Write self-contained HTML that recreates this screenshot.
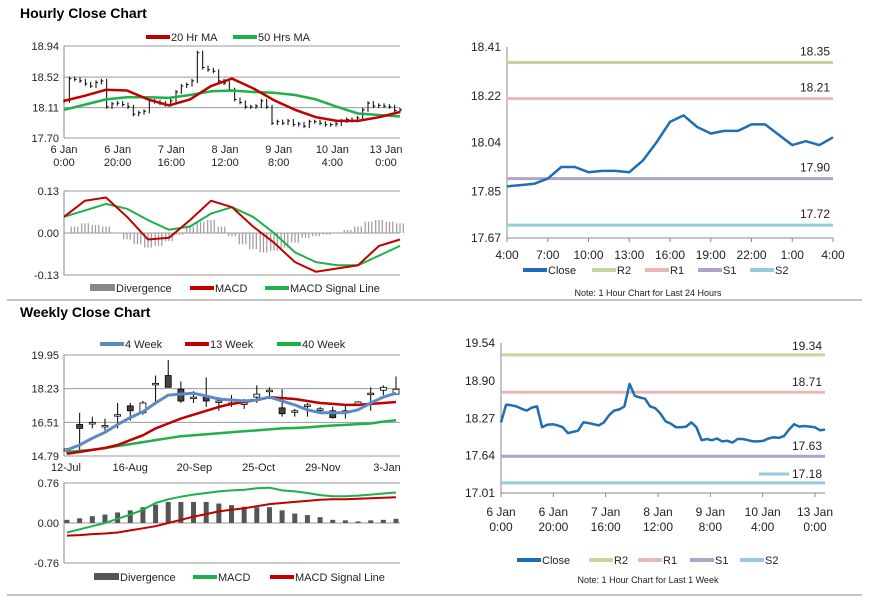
<!DOCTYPE html>
<html><head><meta charset="utf-8"><style>
html,body{margin:0;padding:0;background:#fff;}
svg{display:block;font-family:"Liberation Sans",Arial,sans-serif;}
</style></head><body>
<svg id="s" width="873" height="601" viewBox="0 0 873 601">
<text x="20" y="18" font-size="14" font-weight="bold">Hourly Close Chart</text>
<text x="20" y="317" font-size="14" font-weight="bold">Weekly Close Chart</text>
<line x1="7" y1="300" x2="862" y2="300" stroke="#888" stroke-width="1"/>
<line x1="7" y1="595" x2="862" y2="595" stroke="#888" stroke-width="1"/>
<g id="g"></g>
</svg>
<script>
// ---- Hourly data ----
const hourlyClose=[18.20,18.50,18.49,18.47,18.43,18.40,18.45,18.47,18.12,18.16,18.17,18.15,18.12,18.02,18.04,18.06,18.20,18.19,18.17,18.15,18.20,18.32,18.40,18.42,18.47,18.85,18.65,18.62,18.60,18.47,18.44,18.35,18.22,18.18,18.12,18.12,18.13,18.20,18.12,17.90,17.92,17.90,17.93,17.88,17.89,17.86,17.92,17.92,17.90,17.88,17.88,17.89,17.93,17.95,17.94,17.97,18.08,18.17,18.13,18.14,18.13,18.12,18.07,18.08];
const ma20=[18.20,18.27,18.35,18.34,18.22,18.14,18.22,18.40,18.50,18.37,18.21,18.08,17.98,17.93,17.93,17.98,18.05];
const ma50=[18.08,18.15,18.22,18.25,18.25,18.24,18.28,18.33,18.34,18.32,18.31,18.28,18.22,18.12,18.03,18.01,17.99];
const hMacd=[0.05,0.10,0.11,0.05,-0.02,-0.015,0.04,0.10,0.08,0.02,-0.03,-0.09,-0.12,-0.11,-0.10,-0.04,-0.02];
const hSignal=[0.05,0.07,0.09,0.075,0.04,0.01,0.02,0.06,0.08,0.05,0.0,-0.06,-0.09,-0.10,-0.10,-0.07,-0.04];
const hDiv=[0.0,0.02,0.03,0.025,0.02,0.0,-0.02,-0.035,-0.045,-0.04,-0.025,-0.005,0.02,0.035,0.04,0.02,-0.01,-0.035,-0.05,-0.06,-0.055,-0.045,-0.03,-0.015,-0.01,-0.005,0.0,0.01,0.02,0.035,0.04,0.035,0.03];
const hYTicks=[18.94,18.52,18.11,17.70];
const hMacdTicks=[0.13,0.00,-0.13];
const hXLabels=[["6 Jan","0:00"],["6 Jan","20:00"],["7 Jan","16:00"],["8 Jan","12:00"],["9 Jan","8:00"],["10 Jan","4:00"],["13 Jan","0:00"]];
// ---- 24h data ----
const dayClose=[17.87,17.875,17.88,17.90,17.945,17.945,17.925,17.93,17.93,17.925,17.97,18.04,18.12,18.145,18.10,18.075,18.085,18.085,18.11,18.11,18.07,18.03,18.045,18.03,18.06];
const dayLevels=[18.35,18.21,17.90,17.72];
const dayYTicks=[18.41,18.22,18.04,17.85,17.67];
const dayXLabels=["4:00","7:00","10:00","13:00","16:00","19:00","22:00","1:00","4:00"];
// ---- week (hourly) levels ----
const wkLevels=[19.34,18.71,17.63,17.18];
const wkYTicks=[19.54,18.90,18.27,17.64,17.01];
// ---- Weekly data ----
const wOpen=[15.05,16.4,16.5,16.35,16.9,17.35,17.0,18.5,18.9,18.2,17.8,17.8,17.6,17.5,17.5,17.8,18.15,17.25,17.1,17.4,17.2,17.1,17.1,17.4,18.0,18.15,17.95];
const wClose=[15.15,16.2,16.5,16.35,16.9,17.1,17.5,18.5,18.3,17.6,17.8,17.6,17.6,17.5,17.5,17.95,18.15,16.95,17.1,17.4,17.2,16.75,17.1,17.55,18.0,18.3,18.2];
const wHigh=[15.2,17.0,16.8,16.7,17.5,17.5,17.6,18.9,19.7,18.6,18.1,18.8,17.8,17.9,17.7,18.4,18.3,18.2,17.2,17.5,17.3,17.3,17.4,17.6,18.3,18.4,18.85];
const wLow=[14.9,15.0,16.2,16.1,16.2,16.6,16.9,17.5,18.3,17.5,17.5,17.3,17.1,17.3,17.2,17.5,17.7,16.8,16.8,16.8,17.0,16.7,16.7,17.4,17.1,17.9,17.9];
const w4=[15.1,15.35,15.7,16.0,16.4,16.75,17.05,17.5,17.9,17.95,18.0,17.85,17.7,17.65,17.6,17.65,17.8,17.6,17.4,17.15,17.0,17.0,17.0,17.15,17.5,17.8,18.0];
const w13=[14.9,15.0,15.1,15.2,15.35,15.6,15.85,16.2,16.45,16.7,16.9,17.1,17.3,17.45,17.55,17.65,17.8,17.75,17.7,17.6,17.5,17.45,17.4,17.4,17.45,17.5,17.55];
const w40=[15.0,15.05,15.1,15.2,15.3,15.4,15.5,15.6,15.7,15.8,15.85,15.9,15.95,16.0,16.05,16.1,16.15,16.2,16.22,16.25,16.3,16.35,16.38,16.42,16.45,16.55,16.62];
const wDiv=[0.06,0.09,0.13,0.16,0.2,0.24,0.3,0.35,0.4,0.4,0.4,0.4,0.37,0.34,0.31,0.3,0.3,0.24,0.18,0.15,0.11,0.06,0.05,0.03,0.05,0.06,0.08];
const wMacd=[-0.18,-0.12,-0.06,0.0,0.08,0.16,0.25,0.38,0.45,0.5,0.54,0.57,0.6,0.62,0.63,0.66,0.67,0.62,0.6,0.57,0.53,0.51,0.51,0.52,0.54,0.56,0.58];
const wSignal=[-0.24,-0.23,-0.21,-0.2,-0.18,-0.14,-0.1,-0.06,0.0,0.06,0.12,0.17,0.22,0.25,0.28,0.32,0.36,0.38,0.4,0.42,0.44,0.45,0.45,0.46,0.47,0.48,0.49];
const wYTicks=[19.95,18.23,16.51,14.79];
const wMacdTicks=[0.76,0.00,-0.76];
const wXLabels=["12-Jul","16-Aug","20-Sep","25-Oct","29-Nov","3-Jan"];

const NS="http://www.w3.org/2000/svg",G=document.getElementById('g');
function el(t,a,p){const e=document.createElementNS(NS,t);for(const k in a)e.setAttribute(k,a[k]);(p||G).appendChild(e);return e;}
function lin(d0,d1,r0,r1){return v=>r0+(v-d0)/(d1-d0)*(r1-r0);}
function txt(x,y,s,anchor,size,name){const t=el('text',{x:x,y:y,'font-size':size||11,'text-anchor':anchor||'start',fill:'#222'});t.textContent=s;

return t;}
function line(vals,xf,yf,color,w,name){const d=vals.map((v,i)=>(i?'L':'M')+xf(i).toFixed(1)+' '+yf(v).toFixed(1)).join('');
const p=el('path',{d:d,fill:'none',stroke:color,'stroke-width':w,'stroke-linejoin':'round'});

return p;}
function grid(x0,x1,ticks,yf,name,withLine){ticks.forEach(t=>{if(withLine){const l=el('line',{x1:x0,x2:x1,y1:yf(t),y2:yf(t),stroke:'#999','stroke-width':1});

}
txt(x0-5,yf(t)+4,t.toFixed(2),'end',11,name+'-tick');});}
function axisY(x,y0,y1){const l=el('line',{x1:x,x2:x,y1:y0,y2:y1,stroke:'#888'});

}
function legend(items,y){items.forEach(it=>{const r=el('rect',{x:it[0],y:y-(it[3]?4:2),width:it[4]||24,height:it[3]?7:4,fill:it[2]});


txt(it[0]+(it[4]||24)+1,y+4,it[1],'start',11,'legend-entry');});}

// ===== Hourly price =====
(function(){const x0=64,x1=400,y=lin(17.70,18.94,138,46);
const xi=lin(0,hourlyClose.length-1,x0,x1);
grid(x0,x1,hYTicks,y,'hourly-y',true);axisY(x0,46,138);
hourlyClose.forEach((v,i)=>{const p=i?hourlyClose[i-1]:v;const hi=Math.max(p,v),lo=Math.min(p,v);
const b=el('line',{x1:xi(i),x2:xi(i),y1:y(hi)-2,y2:y(lo)+2,stroke:'#000','stroke-width':1});


const t=el('line',{x1:xi(i),x2:xi(i)+2,y1:y(v),y2:y(v),stroke:'#000','stroke-width':1});

});
const xm=lin(0,ma20.length-1,x0,x1);
line(ma50,xm,y,'#1fb04b',2.5,'ma50-line');line(ma20,xm,y,'#c00000',2.5,'ma20-line');
hXLabels.forEach((l,i)=>{const xx=x0+i*(x1-x0-14)/6;txt(xx,153,l[0],'middle',11,'hourly-x-tick');txt(xx,166,l[1],'middle',11,'hourly-x-tick');});
legend([[146,'20 Hr MA','#c00000'],[233,'50 Hrs MA','#1fb04b']],37);
// MACD
const ym=lin(-0.13,0.13,275,191);grid(x0,x1,hMacdTicks,ym,'hourly-macd-y',true);axisY(x0,191,275);
const xd=lin(0,hDiv.length-1,x0,x1);
hDiv.forEach((v,i)=>{for(let k=-1;k<=1;k++){const r=el('line',{x1:xd(i)+k*3.3,x2:xd(i)+k*3.3,y1:ym(0),y2:ym(v),stroke:'#999','stroke-width':1.2});

}});
line(hSignal,xm,ym,'#1fb04b',2,'hourly-signal-line');line(hMacd,xm,ym,'#c00000',2,'hourly-macd-line');
legend([[90,'Divergence','#888',1,25],[190,'MACD','#c00000'],[265,'MACD Signal Line','#1fb04b']],288);
})();

// ===== 24h chart =====
(function(){const x0=507,x1=833,y=lin(17.67,18.41,238,47);
const xi=lin(0,dayClose.length-1,x0,x1);
axisY(x0,47,238);
const hz=el('line',{x1:x0,x2:x1,y1:238,y2:238,stroke:'#888'});


dayYTicks.forEach(t=>{txt(x0-6,y(t)+4,t.toFixed(2),'end',12,'day-y-tick');});
dayXLabels.forEach((l,i)=>{const xx=x0+i*(x1-x0)/8;txt(xx,259,l,'middle',12,'day-x-tick');
const tk=el('line',{x1:xx,x2:xx,y1:238,y2:242,stroke:'#888'});

});
const cols=['#c3d69b','#e6b9b8','#b3a2c7','#93cddd'];
dayLevels.forEach((v,i)=>{const l=el('line',{x1:x0,x2:x1,y1:y(v),y2:y(v),stroke:cols[i],'stroke-width':3});


txt(x1-3,y(v)-7,v.toFixed(2),'end',12,'day-level-label');});
line(dayClose,xi,y,'#1f6eb4',2.5,'day-close-line');
legend([[523,'Close','#1f6eb4'],[592,'R2','#c3d69b'],[645,'R1','#e6b9b8'],[698,'S1','#b3a2c7'],[750,'S2','#93cddd']],270);
txt(648,296,'Note: 1 Hour Chart for Last 24 Hours','middle',9,'day-note');
})();

// ===== Week (hourly) chart =====
(function(){const x0=501,x1=825,y=lin(17.01,19.54,493,343);
const xi=lin(0,hourlyClose.length-1,x0,x1);
axisY(x0,343,493);
const hz=el('line',{x1:x0,x2:x1,y1:493,y2:493,stroke:'#888'});


wkYTicks.forEach(t=>{txt(x0-6,y(t)+4,t.toFixed(2),'end',12,'week-y-tick');});
hXLabels.forEach((l,i)=>{const xx=x0+i*(x1-x0-10)/6;txt(xx,516,l[0],'middle',12,'week-x-tick');txt(xx,531,l[1],'middle',12,'week-x-tick');
const tk=el('line',{x1:xx,x2:xx,y1:493,y2:497,stroke:'#888'});

});
const cols=['#c3d69b','#e6b9b8','#b3a2c7','#93cddd'];
wkLevels.forEach((v,i)=>{const l=el('line',{x1:x0,x2:x1,y1:y(v),y2:y(v),stroke:cols[i],'stroke-width':3});

});
txt(822,352-2,'19.34','end',12,'week-level-label');txt(822,390-4,'18.71','end',12,'week-level-label');
txt(822,456-6,'17.63','end',12,'week-level-label');
const s2=el('line',{x1:759,x2:789,y1:474,y2:474,stroke:'#93cddd','stroke-width':3});


txt(822,478,'17.18','end',12,'week-level-label');
line(hourlyClose,xi,y,'#1f6eb4',2.5,'week-close-line');
legend([[517,'Close','#1f6eb4'],[589,'R2','#c3d69b'],[638,'R1','#e6b9b8'],[690,'S1','#b3a2c7'],[740,'S2','#93cddd']],560);
txt(648,583,'Note: 1 Hour Chart for Last 1 Week','middle',9,'week-note');
})();

// ===== Weekly chart =====
(function(){const x0=64,x1=400,y=lin(14.79,19.95,456,355);
const xi=i=>67+i*(396-67)/(wClose.length-1);
grid(x0,x1,wYTicks,y,'weekly-y',true);axisY(x0,355,456);
wXLabels.forEach((l,i)=>{txt(66+i*64.2,471,l,'middle',11,'weekly-x-tick');});
wClose.forEach((c,i)=>{const o=wOpen[i];
const w=el('line',{x1:xi(i),x2:xi(i),y1:y(wHigh[i]),y2:y(wLow[i]),stroke:'#000','stroke-width':1});


const top=Math.max(o,c),bot=Math.min(o,c);
const r=el('rect',{x:xi(i)-3,y:y(top),width:6,height:Math.max(1.5,y(bot)-y(top)),fill:c>=o?'#fff':'#444',stroke:'#000','stroke-width':0.8});

});
line(w40,xi,y,'#1fb04b',2.5,'w40-line');line(w13,xi,y,'#c00000',2.5,'w13-line');line(w4,xi,y,'#5b8ac6',3,'w4-line');
legend([[100,'4 Week','#5b8ac6'],[185,'13 Week','#c00000'],[277,'40 Week','#1fb04b']],344);
const ym=lin(-0.76,0.76,563,483);grid(x0,x1,wMacdTicks,ym,'weekly-macd-y',true);axisY(x0,483,563);
wDiv.forEach((v,i)=>{const r=el('rect',{x:xi(i)-2.5,y:Math.min(ym(v),ym(0)),width:5,height:Math.abs(ym(v)-ym(0)),fill:'#555'});

});
line(wSignal,xi,ym,'#c00000',2,'weekly-signal-line');line(wMacd,xi,ym,'#1fb04b',2,'weekly-macd-line');
legend([[94,'Divergence','#555',1,25],[193,'MACD','#1fb04b'],[270,'MACD Signal Line','#c00000']],577);
})();
</script>
</body></html>
